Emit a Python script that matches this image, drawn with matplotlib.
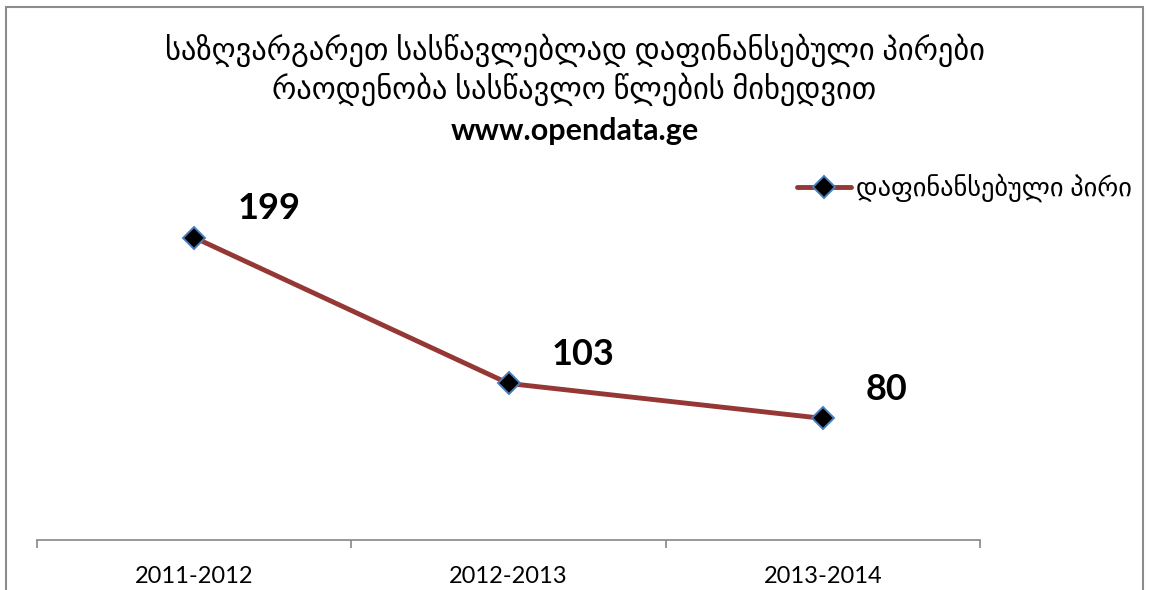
import matplotlib.pyplot as plt
from matplotlib.patches import Rectangle

# DATA
years = ['2011-2012', '2012-2013', '2013-2014']
persons = [199, 103, 80]
series_name = 'დაფინანსებული პირი'
title_lines = [
    'საზღვარგარეთ სასწავლებლად დაფინანსებული პირები',
    'რაოდენობა სასწავლო წლების მიხედვით',
]
site = 'www.opendata.ge'

plt.rcParams['font.family'] = ['Lato', 'DejaVu Sans']

W, H = 1149, 590
fig = plt.figure(figsize=(W / 100, H / 100), dpi=100)

# chart frame (bottom edge is cut off in the picture)
fig.patches.append(Rectangle((6 / W, -0.05), (1143 - 6) / W, 1.05 - 7 / H,
                             transform=fig.transFigure, fill=False,
                             edgecolor='#8c8c8c', linewidth=1.5))

ax = fig.add_axes([37 / W, 1 - 540 / H, (980 - 37) / W, (540 - 160) / H])

x = list(range(len(years)))
ax.plot(x, persons, color='#953735', linewidth=3.5, marker='D',
        markersize=11, markerfacecolor='black', markeredgecolor='#4a7ebb',
        markeredgewidth=1.4, label=series_name, solid_capstyle='round')

for xi, v in zip(x, persons):
    ax.annotate(str(v), (xi, v), xytext=(31, 21), textcoords='offset points',
                ha='left', va='center', fontsize=26, fontweight='bold')

ax.set_xlim(-0.5, 2.5)
ax.set_ylim(0, 250)
ax.set_yticks([])
for s in ['left', 'right', 'top']:
    ax.spines[s].set_visible(False)
ax.spines['bottom'].set_color('#868686')
ax.spines['bottom'].set_linewidth(1.2)

ax.set_xticks(x)
ax.set_xticklabels(years, fontsize=17)
ax.tick_params(axis='x', which='major', length=0, pad=19)
ax.set_xticks([-0.5, 0.5, 1.5, 2.5], minor=True)
ax.tick_params(axis='x', which='minor', length=6, color='#868686', width=1.2)

fig.text(0.5, 1 - 50 / H, title_lines[0], ha='center', va='center', fontsize=22)
fig.text(0.5, 1 - 89 / H, title_lines[1], ha='center', va='center', fontsize=22)
fig.text(0.5, 1 - 131 / H, site, ha='center', va='center', fontsize=22,
         fontweight='bold')

fig.legend(loc='center left', bbox_to_anchor=(797 / W, 1 - 188 / H),
           frameon=False, fontsize=19, handlelength=2.05, handletextpad=0.2,
           borderpad=0, borderaxespad=0)

fig.savefig('out.png', dpi=100)
